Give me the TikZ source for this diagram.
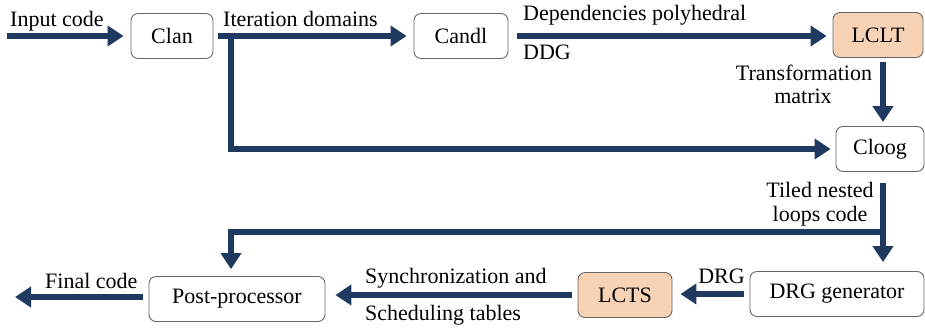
\documentclass[tikz,border=0pt]{standalone}
\usepackage{fontspec}
\setmainfont{Liberation Serif}
\usetikzlibrary{arrows.meta}
\definecolor{flowblue}{HTML}{1F3A60}
\definecolor{peach}{HTML}{F8D2B4}

\begin{document}
\begin{tikzpicture}[x=1pt, y=-1pt,
  box/.style={draw=black!60, rounded corners=7pt, line width=0.9pt,
    minimum height=45pt, inner sep=0pt, font=\fontsize{22}{24}\selectfont},
  hot/.style={box, fill=peach},
  flow/.style={draw=flowblue, line width=6pt,
    -{Triangle[length=16pt,width=20pt]}},
  lbl/.style={inner sep=0pt, font=\fontsize{22}{24}\selectfont}]
  \useasboundingbox (0,0) rectangle (925,327);
  % boxes
  \node[box, minimum width=82pt] (clan) at (172,36) {Clan};
  \node[box, minimum width=94pt] (candl) at (461,36) {Candl};
  \node[hot, minimum width=90pt] (lclt) at (878,35) {LCLT};
  \node[box, minimum width=88pt] (cloog) at (880,149) {Cloog};
  \node[box, minimum width=174pt] (drg) at (837,294) {DRG generator};
  \node[hot, minimum width=94pt] (lcts) at (625,295) {LCTS};
  \node[box, minimum width=176pt] (post) at (237,299) {Post-processor};
  % free ends and bends
  \coordinate (in) at (7,36);
  \coordinate (out) at (15,297);
  \coordinate (br) at (231,36);
  \coordinate (tx) at (883,0);
  \coordinate (split) at (883,232);
  % connectors
  \draw[flow, shorten >=7pt] (in) -- (clan.west);
  \draw[flow, shorten <=5pt, shorten >=7pt] (clan.east) -- (candl.west);
  \draw[flow, shorten <=9pt, shorten >=6pt] (candl.east) -- (candl.east -| lclt.west);
  \draw[flow, shorten <=4pt, shorten >=4pt] (lclt.south -| tx) -- (cloog.north -| tx);
  \draw[flow, shorten >=5pt] (br) |- (cloog.west);
  \draw[flow, shorten <=11pt, shorten >=9pt] (cloog.south -| tx) -- (drg.north -| tx);
  \draw[flow, shorten >=7pt] (split) -| (post.north -| br);
  \draw[flow, shorten <=6pt, shorten >=8pt] (drg.west) -- (drg.west -| lcts.east);
  \draw[flow, shorten <=6pt, shorten >=10pt] (lcts.west) -- (lcts.west -| post.east);
  \draw[flow, shorten <=6pt] (post.west |- out) -- (out);
  % labels
  \node[lbl, anchor=base west] (incode) at (10,26) {Input code};
  \node[lbl, anchor=base west] (itdom) at (223,26) {Iteration domains};
  \node[lbl, anchor=base west] (deps) at (523,20) {Dependencies polyhedral};
  \node[lbl, anchor=base west] (ddg) at (523,59) {DDG};
  \node[lbl, anchor=base] (trans) at (804,80) {Transformation};
  \node[lbl, anchor=base] (matrix) at (803,103) {matrix};
  \node[lbl, anchor=base] (tiled) at (820,197) {Tiled nested};
  \node[lbl, anchor=base] (loops) at (820,221) {loops code};
  \node[lbl, anchor=base east] (drglbl) at (745,283) {DRG};
  \node[lbl, anchor=base west] (sync) at (365,283) {Synchronization and};
  \node[lbl, anchor=base west] (sched) at (365,320) {Scheduling tables};
  \node[lbl, anchor=base west] (final) at (45,288) {Final code};
\end{tikzpicture}
\end{document}
